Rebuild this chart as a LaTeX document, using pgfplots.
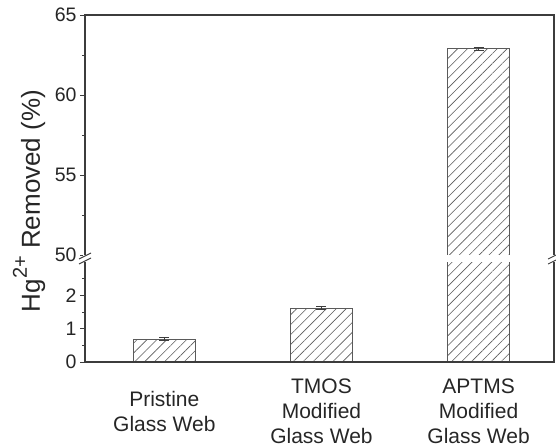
\documentclass[border=0pt]{standalone}
\usepackage{fontspec}
\setmainfont{Liberation Sans}
\usepackage{pgfplots}
\usepackage{pgfplotstable}
\pgfplotsset{compat=1.18}
\usetikzlibrary{patterns.meta}
\definecolor{axc}{HTML}{3C3C3C}
\definecolor{hat}{HTML}{5A5A5A}
\definecolor{txt}{HTML}{262626}

\pgfplotstableread{
x y e
0 0.69 0.04
1 1.62 0.05
2 62.9 0.10
}\datatable

\pgfplotsset{
  myax/.style={
    scale only axis, width=469pt,
    xmin=-0.505, xmax=2.48,
    axis line style={draw=none},
    ytick pos=left, tick align=outside,
    major tick length=5pt, minor tick length=3pt,
    ytick style={axc, line width=0.9pt},
    xtick style={draw=none},
    yticklabel style={font=\fontsize{19.5}{22}\selectfont, text=txt},
    /pgf/number format/assume math mode=true,
  },
  mybar/.style={
    ybar, bar width=62pt, draw=hat, line width=0.7pt,
    pattern={Lines[angle=45,distance=7pt,line width=0.6pt]}, pattern color=hat,
    error bars/.cd, y dir=both, y explicit,
    error bar style={axc, line width=0.8pt},
    error mark options={rotate=90, mark size=5pt, line width=0.8pt, axc},
  },
}

\begin{document}
\begin{tikzpicture}

% lower axis
\begin{axis}[myax, name=lo, at={(85pt,85pt)}, anchor=south west, height=100pt,
  ymin=0, ymax=3, ytick={0,1,2}, minor ytick={0.5,1.5,2.5},
  xtick={0,1,2},
  xticklabels={{Pristine\\Glass Web},{TMOS\\Modified\\Glass Web},{APTMS\\Modified\\Glass Web}},
  xticklabel style={align=center, anchor=center, yshift=-44pt, inner sep=0pt, text=txt,
    font=\fontsize{21}{25}\selectfont},
]
\addplot[mybar] table[x=x, y=y, y error=e] {\datatable};
\end{axis}

% upper axis
\begin{axis}[myax, name=up, at={(85pt,192pt)}, anchor=south west, height=240pt,
  ymin=50, ymax=65, ytick={50,55,60,65}, minor ytick={52.5,57.5,62.5},
  xtick=\empty,
]
\addplot[skip coords between index={0}{2}, mybar] table[x=x, y=y, y error=e] {\datatable};
\end{axis}

\draw[axc, line width=1.1pt] (lo.north west) -- (lo.south west) -- (lo.south east) -- (lo.north east);
\draw[axc, line width=1.1pt] (up.south west) -- (up.north west) -- (up.north east) -- (up.south east);

% axis break marks
\foreach \xx in {85,554}{
  \draw[white, line width=4pt] (\xx pt,185.5pt) -- (\xx pt,191.5pt);
  \draw[axc, line width=0.9pt] (\xx pt-6pt,183pt) -- (\xx pt+6pt,189pt);
  \draw[axc, line width=0.9pt] (\xx pt-6pt,188pt) -- (\xx pt+6pt,194pt);
}

\node[rotate=90, font=\fontsize{26}{29}\selectfont, text=txt] at (29pt,246pt)
  {Hg\raisebox{0.5em}{\fontsize{20}{21}\selectfont 2+} Removed (\%)};

\pgfresetboundingbox
\path (0pt,0pt) rectangle (556pt,447pt);
\end{tikzpicture}
\end{document}
